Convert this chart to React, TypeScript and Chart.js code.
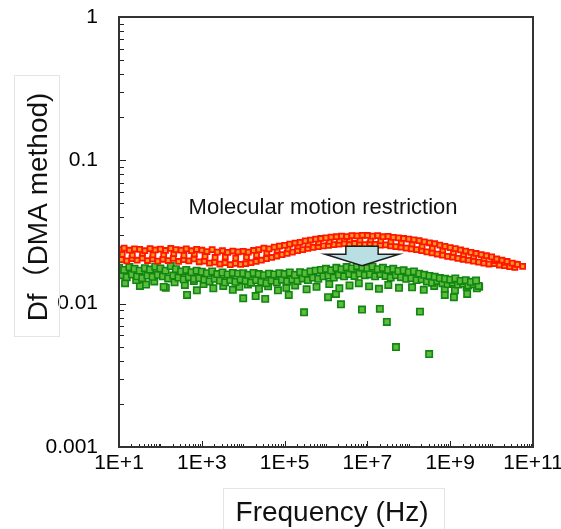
import React, { useEffect, useRef } from 'react';
import { Chart, registerables } from 'chart.js';
Chart.register(...registerables);

const FONT = '"Liberation Sans", Arial, "Noto Sans CJK JP", sans-serif';

const xTickValues = [1e1, 1e3, 1e5, 1e7, 1e9, 1e11];
const xTickLabels = ['1E+1', '1E+3', '1E+5', '1E+7', '1E+9', '1E+11'];
const yTickValues = [0.001, 0.01, 0.1, 1];
const yTickLabels = ['0.001', '0.01', '0.1', '1'];
const xTitle = 'Frequency (Hz)';
const yTitle = 'Df（DMA method)';
const annotationText = 'Molecular motion restriction';

// annotation anchor (data units)
const annotationFreq = 8.5e5;
const annotationDf = 0.0422;
// arrow (data units)
const arrowFreq = 7.4e6;
const arrowTopDf = 0.0252;
const arrowHeadDf = 0.0221;
const arrowTipDf = 0.0184;
const arrowShaftHalfDecades = 0.39;
const arrowHeadHalfDecades = 0.89;

// ---- red (before) ----
const redUpperFreq = [
  1.0e1, 1.33e1, 1.78e1, 2.37e1, 3.16e1, 4.22e1, 5.62e1, 7.5e1,
  1.0e2, 1.33e2, 1.78e2, 2.37e2, 3.16e2, 4.22e2, 5.62e2, 7.5e2,
  1.0e3, 1.33e3, 1.78e3, 2.37e3, 3.16e3, 4.22e3, 5.62e3, 7.5e3,
  1.0e4, 1.33e4, 1.78e4, 2.37e4, 3.16e4, 4.22e4, 5.62e4, 7.5e4,
  1.0e5, 1.33e5, 1.78e5, 2.37e5, 3.16e5, 4.22e5, 5.62e5, 7.5e5,
  1.0e6, 1.33e6, 1.78e6, 2.37e6, 3.16e6, 4.22e6, 5.62e6, 7.5e6,
  1.0e7, 1.33e7, 1.78e7, 2.37e7, 3.16e7, 4.22e7, 5.62e7, 7.5e7,
  1.0e8, 1.33e8, 1.78e8, 2.37e8, 3.16e8, 4.22e8, 5.62e8, 7.5e8,
  1.0e9, 1.33e9, 1.78e9, 2.37e9, 3.16e9, 4.22e9, 5.62e9, 7.5e9,
  1.0e10, 1.33e10, 1.78e10, 2.37e10, 3.16e10, 4.22e10, 5.62e10,
];
const redUpperDf = [
  0.0238, 0.0244, 0.0236, 0.0241, 0.0239, 0.0234, 0.0242, 0.0237,
  0.0240, 0.0235, 0.0243, 0.0238, 0.0236, 0.0241, 0.0234, 0.0239,
  0.0236, 0.0231, 0.0238, 0.0229, 0.0234, 0.0228, 0.0233, 0.0230,
  0.0232, 0.0229, 0.0235, 0.0238, 0.0244, 0.0241, 0.0248, 0.0252,
  0.0255, 0.0260, 0.0265, 0.0268, 0.0274, 0.0278, 0.0282, 0.0285,
  0.0288, 0.0291, 0.0293, 0.0296, 0.0294, 0.0298, 0.0297, 0.0300,
  0.0299, 0.0296, 0.0298, 0.0293, 0.0295, 0.0290, 0.0288, 0.0285,
  0.0282, 0.0279, 0.0275, 0.0270, 0.0266, 0.0262, 0.0256, 0.0251,
  0.0246, 0.0242, 0.0237, 0.0233, 0.0228, 0.0224, 0.0220, 0.0216,
  0.0212, 0.0205, 0.0201, 0.0197, 0.0192, 0.0188, 0.0182,
];
const redMidFreq = [
  1.2e1, 2.1e1, 3.7e1, 6.6e1,
  1.2e2, 2.1e2, 3.7e2, 6.6e2,
  1.2e3, 2.1e3, 3.7e3, 6.6e3,
  1.2e4, 2.1e4, 3.7e4, 6.6e4,
  1.2e5, 2.1e5, 3.7e5, 6.6e5,
  1.2e6, 2.1e6, 3.7e6, 6.6e6,
  1.2e7, 2.1e7, 3.7e7, 6.6e7,
  1.2e8, 2.1e8, 3.7e8, 6.6e8,
  1.2e9, 2.1e9, 3.7e9, 6.6e9,
  1.2e10, 2.1e10, 3.7e10,
];
const redMidDf = [
  0.0221, 0.0218, 0.0224, 0.0219,
  0.0220, 0.0223, 0.0217, 0.0222,
  0.0214, 0.0210, 0.0212, 0.0208,
  0.0211, 0.0218, 0.0226, 0.0235,
  0.0241, 0.0252, 0.0259, 0.0267,
  0.0272, 0.0276, 0.0279, 0.0278,
  0.0279, 0.0275, 0.0271, 0.0266,
  0.0261, 0.0252, 0.0244, 0.0236,
  0.0228, 0.0221, 0.0214, 0.0207,
  0.0200, 0.0194, 0.0189,
];
const redLowerFreq = [
  1.15e1, 1.54e1, 2.05e1, 2.74e1, 3.65e1, 4.87e1, 6.49e1, 8.66e1,
  1.15e2, 1.54e2, 2.05e2, 2.74e2, 3.65e2, 4.87e2, 6.49e2, 8.66e2,
  1.15e3, 1.54e3, 2.05e3, 2.74e3, 3.65e3, 4.87e3, 6.49e3, 8.66e3,
  1.15e4, 1.54e4, 2.05e4, 2.74e4, 3.65e4, 4.87e4, 6.49e4, 8.66e4,
  1.15e5, 1.54e5, 2.05e5, 2.74e5, 3.65e5, 4.87e5, 6.49e5, 8.66e5,
  1.15e6, 1.54e6, 2.05e6, 2.74e6, 3.65e6, 4.87e6, 6.49e6, 8.66e6,
  1.15e7, 1.54e7, 2.05e7, 2.74e7, 3.65e7, 4.87e7, 6.49e7, 8.66e7,
  1.15e8, 1.54e8, 2.05e8, 2.74e8, 3.65e8, 4.87e8, 6.49e8, 8.66e8,
  1.15e9, 1.54e9, 2.05e9, 2.74e9, 3.65e9, 4.87e9, 6.49e9, 8.66e9,
  1.15e10, 1.54e10, 2.05e10, 2.74e10, 3.65e10,
];
const redLowerDf = [
  0.0203, 0.0199, 0.0206, 0.0201, 0.0208, 0.0200, 0.0205, 0.0198,
  0.0204, 0.0200, 0.0207, 0.0197, 0.0203, 0.0199, 0.0205, 0.0196,
  0.0198, 0.0192, 0.0195, 0.0189, 0.0193, 0.0187, 0.0191, 0.0188,
  0.0190, 0.0193, 0.0197, 0.0201, 0.0206, 0.0210, 0.0215, 0.0220,
  0.0224, 0.0229, 0.0234, 0.0238, 0.0243, 0.0247, 0.0250, 0.0253,
  0.0255, 0.0258, 0.0260, 0.0262, 0.0259, 0.0263, 0.0261, 0.0258,
  0.0262, 0.0259, 0.0256, 0.0257, 0.0253, 0.0250, 0.0248, 0.0244,
  0.0241, 0.0238, 0.0234, 0.0230, 0.0226, 0.0222, 0.0218, 0.0214,
  0.0211, 0.0207, 0.0204, 0.0201, 0.0198, 0.0195, 0.0192, 0.0189,
  0.0190, 0.0186, 0.0184, 0.0181, 0.0179,
];

// ---- green (after) ----
const greenUpperFreq = [
  1.0e1, 1.33e1, 1.78e1, 2.37e1, 3.16e1, 4.22e1, 5.62e1, 7.5e1,
  1.0e2, 1.33e2, 1.78e2, 2.37e2, 3.16e2, 4.22e2, 5.62e2, 7.5e2,
  1.0e3, 1.33e3, 1.78e3, 2.37e3, 3.16e3, 4.22e3, 5.62e3, 7.5e3,
  1.0e4, 1.33e4, 1.78e4, 2.37e4, 3.16e4, 4.22e4, 5.62e4, 7.5e4,
  1.0e5, 1.33e5, 1.78e5, 2.37e5, 3.16e5, 4.22e5, 5.62e5, 7.5e5,
  1.0e6, 1.33e6, 1.78e6, 2.37e6, 3.16e6, 4.22e6, 5.62e6, 7.5e6,
  1.0e7, 1.33e7, 1.78e7, 2.37e7, 3.16e7, 4.22e7, 5.62e7, 7.5e7,
  1.0e8, 1.33e8, 1.78e8, 2.37e8, 3.16e8, 4.22e8, 5.62e8, 7.5e8,
  1.0e9, 1.33e9, 1.78e9, 2.37e9, 3.16e9, 4.22e9,
];
const greenUpperDf = [
  0.0178, 0.0172, 0.0180, 0.0175, 0.0170, 0.0177, 0.0173, 0.0181,
  0.0176, 0.0170, 0.0183, 0.0174, 0.0168, 0.0172, 0.0166, 0.0170,
  0.0167, 0.0163, 0.0168, 0.0161, 0.0165, 0.0160, 0.0164, 0.0162,
  0.0163, 0.0159, 0.0164, 0.0161, 0.0158, 0.0162, 0.0160, 0.0163,
  0.0161, 0.0165, 0.0159, 0.0166, 0.0163, 0.0168, 0.0170, 0.0172,
  0.0175, 0.0171, 0.0178, 0.0174, 0.0180, 0.0176, 0.0183, 0.0179,
  0.0177, 0.0181, 0.0174, 0.0178, 0.0172, 0.0175, 0.0169, 0.0171,
  0.0166, 0.0168, 0.0162, 0.0159, 0.0156, 0.0154, 0.0151, 0.0149,
  0.0147, 0.0150, 0.0144, 0.0146, 0.0142, 0.0145,
];
const greenMidFreq = [
  1.15e1, 1.54e1, 2.05e1, 2.74e1, 3.65e1, 4.87e1, 6.49e1, 8.66e1,
  1.15e2, 1.54e2, 2.05e2, 2.74e2, 3.65e2, 4.87e2, 6.49e2, 8.66e2,
  1.15e3, 1.54e3, 2.05e3, 2.74e3, 3.65e3, 4.87e3, 6.49e3, 8.66e3,
  1.15e4, 1.54e4, 2.05e4, 2.74e4, 3.65e4, 4.87e4, 6.49e4, 8.66e4,
  1.15e5, 1.54e5, 2.05e5, 2.74e5, 3.65e5, 4.87e5, 6.49e5, 8.66e5,
  1.15e6, 1.54e6, 2.05e6, 2.74e6, 3.65e6, 4.87e6, 6.49e6, 8.66e6,
  1.15e7, 1.54e7, 2.05e7, 2.74e7, 3.65e7, 4.87e7, 6.49e7, 8.66e7,
  1.15e8, 1.54e8, 2.05e8, 2.74e8, 3.65e8, 4.87e8, 6.49e8, 8.66e8,
  1.15e9, 1.54e9, 2.05e9, 2.74e9, 3.65e9, 4.87e9,
];
const greenMidDf = [
  0.0158, 0.0153, 0.0160, 0.0155, 0.0151, 0.0157, 0.0154, 0.0159,
  0.0155, 0.0150, 0.0157, 0.0152, 0.0148, 0.0153, 0.0149, 0.0151,
  0.0147, 0.0143, 0.0149, 0.0145, 0.0141, 0.0146, 0.0142, 0.0148,
  0.0144, 0.0140, 0.0146, 0.0142, 0.0139, 0.0145, 0.0141, 0.0147,
  0.0143, 0.0148, 0.0144, 0.0150, 0.0146, 0.0152, 0.0149, 0.0155,
  0.0157, 0.0152, 0.0159, 0.0155, 0.0161, 0.0156, 0.0162, 0.0158,
  0.0160, 0.0155, 0.0161, 0.0156, 0.0152, 0.0158, 0.0153, 0.0149,
  0.0151, 0.0146, 0.0148, 0.0143, 0.0140, 0.0144, 0.0139, 0.0137,
  0.0140, 0.0136, 0.0138, 0.0134, 0.0137, 0.0133,
];
const greenLowFreq = [
  1.4e1, 2.6e1, 4.5e1, 7.1e1,
  1.2e2, 2.2e2, 3.9e2, 6.4e2,
  1.1e3, 1.9e3, 3.3e3, 5.6e3, 8.1e3,
  1.3e4, 2.4e4, 4.0e4, 6.9e4,
  1.1e5, 1.8e5, 3.4e5, 5.9e5,
  1.2e6, 2.1e6, 3.7e6, 6.2e6,
  1.1e7, 1.9e7, 3.2e7, 5.8e7,
  1.2e8, 2.3e8, 4.1e8, 7.4e8,
  1.3e9, 2.5e9, 4.4e9,
];
const greenLowDf = [
  0.0139, 0.0146, 0.0136, 0.0143,
  0.0131, 0.0141, 0.0135, 0.0144,
  0.0137, 0.0128, 0.0133, 0.0125, 0.0131,
  0.0136, 0.0127, 0.0132, 0.0124,
  0.0129, 0.0134, 0.0126, 0.0131,
  0.0137, 0.0128, 0.0134, 0.0139,
  0.0132, 0.0127, 0.0135, 0.0129,
  0.0130, 0.0125, 0.0133, 0.0127,
  0.0124, 0.0131, 0.0128,
];
const greenOutlierFreq = [
  3.2e1, 1.35e2, 4.4e2, 7.6e2, 1.0e4, 2.0e4, 3.4e4, 1.26e5,
  2.95e5, 1.12e6, 1.74e6, 2.3e6, 7.4e6, 2.0e7, 2.95e7, 4.9e7,
  1.86e8, 3.1e8, 7.4e8, 1.23e9, 2.57e9, 5.0e9, 1.55e9, 2.8e9,
];
const greenOutlierDf = [
  0.0133, 0.0129, 0.0115, 0.0124, 0.0109, 0.0113, 0.0108, 0.0115,
  0.0087, 0.0111, 0.0117, 0.0099, 0.0091, 0.0092, 0.00745, 0.00498,
  0.0088, 0.00445, 0.0115, 0.0111, 0.0117, 0.0131, 0.0137, 0.0137,
];

function pts(xs: number[], ys: number[]) {
  return xs.map((x, i) => ({ x, y: ys[i] }));
}

const decorPlugin = {
  id: 'decor',
  beforeDatasetsDraw(chart: any) {
    const { ctx, chartArea: a, scales } = chart;
    const xs = scales.x;
    const ys = scales.y;
    ctx.save();
    ctx.strokeStyle = '#222';
    ctx.lineWidth = 1;
    ctx.beginPath();
    for (let e = -3; e < 0; e++) {
      for (let m = 1; m <= 9; m++) {
        const v = m * Math.pow(10, e);
        const py = Math.round(ys.getPixelForValue(v)) + 0.5;
        const len = m === 1 ? 7 : 5;
        ctx.moveTo(a.left, py);
        ctx.lineTo(a.left + len, py);
      }
    }
    for (let e = 1; e < 11; e++) {
      for (let m = 1; m <= 9; m++) {
        const v = m * Math.pow(10, e);
        const px = Math.round(xs.getPixelForValue(v)) + 0.5;
        const len = m === 1 && e % 2 === 1 ? 6 : 3;
        ctx.moveTo(px, a.bottom);
        ctx.lineTo(px, a.bottom - len);
      }
    }
    ctx.stroke();
    ctx.restore();
  },
  afterDatasetsDraw(chart: any) {
    const { ctx, chartArea: a, scales } = chart;
    const xs = scales.x;
    const ys = scales.y;
    ctx.save();
    // frame
    ctx.strokeStyle = '#333';
    ctx.lineWidth = 2;
    ctx.strokeRect(a.left, a.top, a.right - a.left, a.bottom - a.top);

    // arrow
    const cx = xs.getPixelForValue(arrowFreq);
    const sl = xs.getPixelForValue(arrowFreq / Math.pow(10, arrowShaftHalfDecades));
    const sr = xs.getPixelForValue(arrowFreq * Math.pow(10, arrowShaftHalfDecades));
    const hl = xs.getPixelForValue(arrowFreq / Math.pow(10, arrowHeadHalfDecades));
    const hr = xs.getPixelForValue(arrowFreq * Math.pow(10, arrowHeadHalfDecades));
    const ty = ys.getPixelForValue(arrowTopDf);
    const hy = ys.getPixelForValue(arrowHeadDf);
    const tip = ys.getPixelForValue(arrowTipDf);
    ctx.beginPath();
    ctx.moveTo(sl, ty);
    ctx.lineTo(sr, ty);
    ctx.lineTo(sr, hy);
    ctx.lineTo(hr, hy);
    ctx.lineTo(cx, tip);
    ctx.lineTo(hl, hy);
    ctx.lineTo(sl, hy);
    ctx.closePath();
    ctx.fillStyle = '#b9dfe3';
    ctx.fill();
    ctx.strokeStyle = '#1e1e1e';
    ctx.lineWidth = 1.5;
    ctx.lineJoin = 'miter';
    ctx.stroke();

    // annotation text
    ctx.fillStyle = '#111';
    ctx.font = `22px ${FONT}`;
    ctx.textAlign = 'center';
    ctx.textBaseline = 'alphabetic';
    ctx.fillText(annotationText, xs.getPixelForValue(annotationFreq), ys.getPixelForValue(annotationDf));
    ctx.restore();
  },
  afterDraw(chart: any) {
    const { ctx, chartArea: a } = chart;
    ctx.save();
    // faint title boxes
    ctx.strokeStyle = '#e4e4e4';
    ctx.lineWidth = 1;
    ctx.strokeRect(a.left + 104.5, a.bottom + 41.5, 221, 60);
    ctx.strokeRect(14.5, a.top + 58.5, 45, 261);
    // x title
    ctx.fillStyle = '#111';
    ctx.font = `28px ${FONT}`;
    ctx.textAlign = 'center';
    ctx.textBaseline = 'alphabetic';
    ctx.fillText(xTitle, (a.left + a.right) / 2 + 6, a.bottom + 74);
    // y title
    ctx.translate(47, (a.top + a.bottom) / 2 - 25);
    ctx.rotate(-Math.PI / 2);
    ctx.fillText(yTitle, 0, 0);
    ctx.restore();
  },
};

export default function App() {
  const ref = useRef<HTMLCanvasElement | null>(null);
  useEffect(() => {
    document.body.style.margin = '0';
    const canvas = ref.current;
    if (!canvas) return;
    const redStyle = {
      pointStyle: 'rect',
      pointRadius: 3.5,
      pointBackgroundColor: '#ff9a1f',
      pointBorderColor: '#ff1500',
      pointBorderWidth: 1.8,
      showLine: false,
    };
    const greenStyle = {
      pointStyle: 'rect',
      pointRadius: 4.5,
      pointBackgroundColor: '#5cbd3c',
      pointBorderColor: '#118511',
      pointBorderWidth: 1.6,
      showLine: false,
    };
    const chart = new Chart(canvas, {
      type: 'scatter',
      data: {
        datasets: [
          { label: 'before-upper', data: pts(redUpperFreq, redUpperDf), ...redStyle },
          { label: 'before-mid', data: pts(redMidFreq, redMidDf), ...redStyle },
          { label: 'before-lower', data: pts(redLowerFreq, redLowerDf), ...redStyle },
          { label: 'after-upper', data: pts(greenUpperFreq, greenUpperDf), ...greenStyle },
          { label: 'after-mid', data: pts(greenMidFreq, greenMidDf), ...greenStyle },
          { label: 'after-low', data: pts(greenLowFreq, greenLowDf), ...greenStyle },
          { label: 'after-outlier', data: pts(greenOutlierFreq, greenOutlierDf), ...greenStyle },
        ] as any,
      },
      options: {
        animation: false,
        responsive: false,
        devicePixelRatio: 1,
        layout: { padding: { top: 17, right: 28, left: 0, bottom: 0 } },
        plugins: { legend: { display: false }, tooltip: { enabled: false } },
        scales: {
          x: {
            type: 'logarithmic',
            min: 1e1,
            max: 1e11,
            grid: { display: false, drawTicks: false },
            border: { display: false },
            afterBuildTicks: (scale: any) => {
              scale.ticks = xTickValues.map((v) => ({ value: v }));
            },
            afterFit: (scale: any) => {
              scale.height = 82;
              scale.paddingLeft = 0;
              scale.paddingRight = 0;
            },
            ticks: {
              autoSkip: false,
              maxRotation: 0,
              padding: 4,
              color: '#000',
              font: { family: FONT, size: 21 },
              callback: (_v: any, i: number) => xTickLabels[i],
            },
          },
          y: {
            type: 'logarithmic',
            min: 0.001,
            max: 1,
            grid: { display: false, drawTicks: false },
            border: { display: false },
            afterBuildTicks: (scale: any) => {
              scale.ticks = yTickValues.map((v) => ({ value: v }));
            },
            afterFit: (scale: any) => {
              scale.width = 119;
              scale.paddingTop = 0;
              scale.paddingBottom = 0;
            },
            ticks: {
              autoSkip: false,
              padding: 21,
              color: '#000',
              font: { family: FONT, size: 21 },
              callback: (_v: any, i: number) => yTickLabels[i],
            },
          },
        },
      },
      plugins: [decorPlugin],
    });
    return () => chart.destroy();
  }, []);
  return (
    <div style={{ width: 561, height: 529 }}>
      <canvas ref={ref} width={561} height={529} style={{ display: 'block' }} />
    </div>
  );
}
